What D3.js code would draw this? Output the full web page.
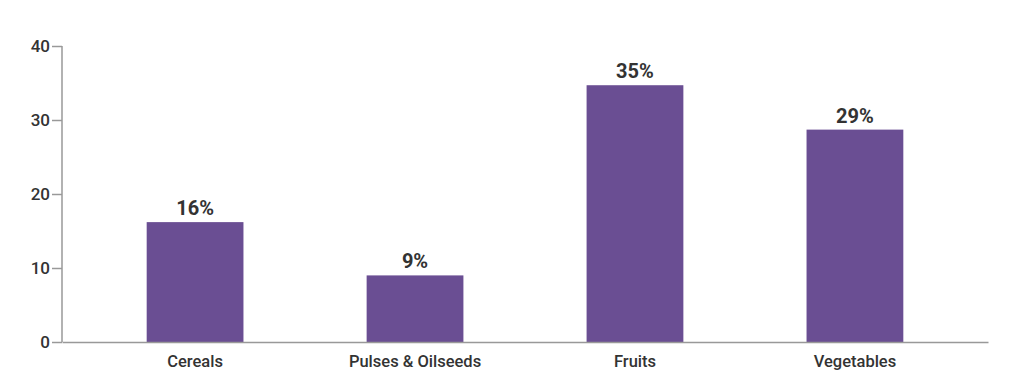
<!DOCTYPE html>
<html><head><meta charset="utf-8">
<script src="https://cdn.jsdelivr.net/npm/d3@7"></script>
<style>body{margin:0;background:#fff}svg{display:block}</style>
</head><body>
<script>
const categories = ["Cereals", "Pulses & Oilseeds", "Fruits", "Vegetables"];
const values = [16.2, 9.0, 34.7, 28.7];
const valueLabels = ["16%", "9%", "35%", "29%"];
const yTicks = [0, 10, 20, 30, 40];

const W = 1024, H = 382;
const svg = d3.select("body").append("svg").attr("width", W).attr("height", H);
const x = d3.scaleBand().domain(categories).range([62, 988]).paddingInner(0.56).paddingOuter(0.385);
const y = d3.scaleLinear().domain([0, 40]).range([342, 46]);
const font = "Roboto, 'Noto Sans', sans-serif";

svg.selectAll("rect.bar").data(categories).join("rect")
  .attr("class", "bar")
  .attr("x", d => x(d)).attr("width", x.bandwidth())
  .attr("y", (d, i) => y(values[i])).attr("height", (d, i) => y(0) - y(values[i]))
  .attr("fill", "#6a4e93");

svg.selectAll("text.val").data(categories).join("text")
  .attr("class", "val")
  .attr("x", d => x(d) + x.bandwidth() / 2)
  .attr("y", (d, i) => y(values[i]) - 7)
  .attr("text-anchor", "middle")
  .attr("font-family", font).attr("font-weight", 700).attr("font-size", 20)
  .attr("fill", "#333")
  .text((d, i) => valueLabels[i]);

const yAxis = svg.append("g").attr("transform", "translate(62,0)")
  .call(d3.axisLeft(y).tickValues(yTicks).tickSize(10).tickPadding(2));
yAxis.select(".domain").attr("stroke", "#999").attr("stroke-width", 1.5).attr("d", "M0,46V342");
yAxis.selectAll(".tick line").attr("stroke", "#999").attr("stroke-width", 1.5);
yAxis.selectAll(".tick text").attr("font-family", font).attr("font-weight", 500).attr("font-size", 17).attr("fill", "#333");

const xAxis = svg.append("g").attr("transform", "translate(0,342)")
  .call(d3.axisBottom(x).tickSize(0).tickPadding(13));
xAxis.select(".domain").attr("stroke", "#999").attr("stroke-width", 1.5);
xAxis.selectAll(".tick text").attr("font-family", font).attr("font-weight", 500).attr("font-size", 16.5).attr("fill", "#333");
</script>
</body></html>
